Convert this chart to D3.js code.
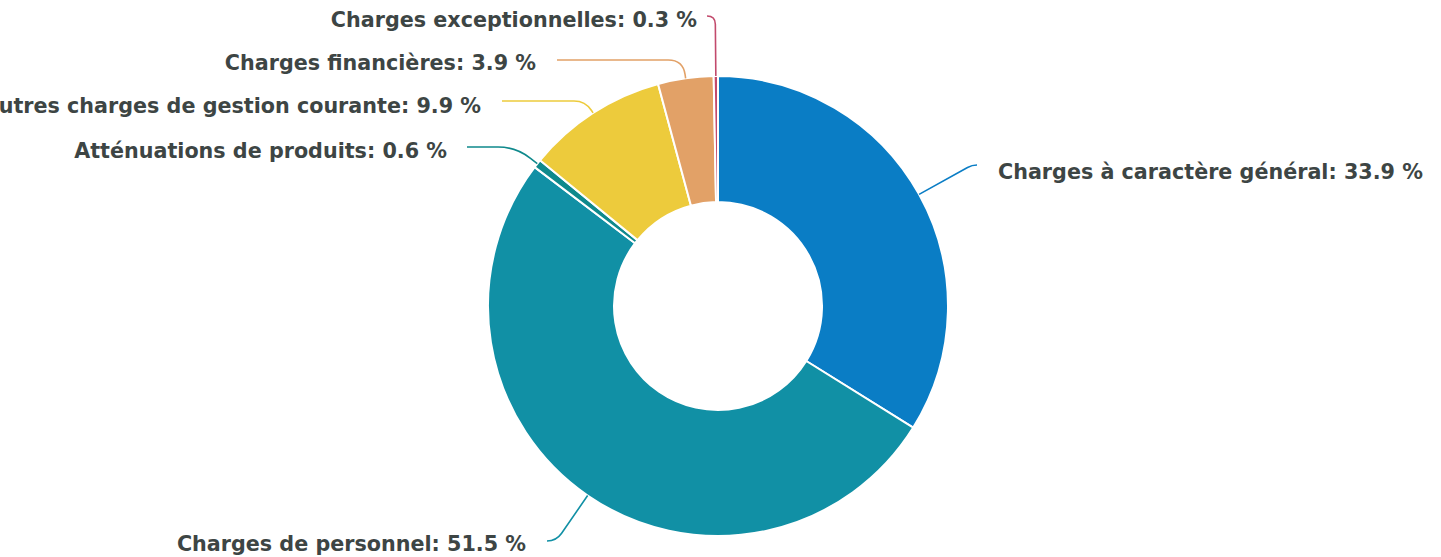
<!DOCTYPE html>
<html><head><meta charset="utf-8">
<script src="https://cdn.jsdelivr.net/npm/d3@7"></script>
<style>html,body{margin:0;padding:0;background:#fff;}svg{display:block;}</style>
</head><body>
<svg id="chart" width="1441" height="557"></svg>
<script>
const categories = ["Charges à caractère général","Charges de personnel","Atténuations de produits","Autres charges de gestion courante","Charges financières","Charges exceptionnelles"];
const values = [33.9, 51.5, 0.6, 9.9, 3.9, 0.3];
const colors = ["#0a7dc5","#1190a5","#0f898c","#edcb3c","#e2a167","#c24a6c"];
// label layout: leader-line end (x, y), label centre y, gap between text and line
const lineEndX = [977, 547, 467, 502, 557, 707];
const lineEndY = [165, 541, 147, 101, 60, 16];
const labelY = [172, 544, 151, 106, 63, 20];
const labelGap = [21, 21, 20, 21, 21, 10];

const svg = d3.select("#chart");
const cx = 718, cy = 306, R = 230, r0 = 104;
const data = categories.map((c,i)=>({name:c, value:values[i], color:colors[i], ex:lineEndX[i], ey:lineEndY[i], ly:labelY[i], gap:labelGap[i]}));
const pie = d3.pie().value(d=>d.value).sort(null);
const arcs = pie(data);
const arc = d3.arc().innerRadius(r0).outerRadius(R);
const g = svg.append("g").attr("transform",`translate(${cx},${cy})`);
g.selectAll("path.slice").data(arcs).join("path").attr("class","slice")
  .attr("d",arc).attr("fill",d=>d.data.color).attr("stroke","#fff").attr("stroke-width",2).attr("stroke-linejoin","round");

const lab = svg.append("g");
arcs.forEach(a=>{
  const mid = (a.startAngle+a.endAngle)/2;
  const dx = Math.sin(mid), dy = -Math.cos(mid);
  const P0 = [cx + R*dx, cy + R*dy];
  const Ey = a.data.ey, Ex = a.data.ex;
  const t = (Ey - P0[1]) / dy;
  const K = [P0[0] + dx*t, Ey];
  const side = Ex < K[0] ? 1 : -1;
  const rc = Math.max(0, Math.min(18, Math.abs(K[0]-Ex), Math.abs(t)*0.8));
  const len = Math.hypot(P0[0]-K[0], P0[1]-K[1]);
  const ux = (P0[0]-K[0])/len, uy = (P0[1]-K[1])/len;
  const p = d3.path();
  p.moveTo(Ex, Ey);
  p.lineTo(K[0] - side*rc, Ey);
  p.quadraticCurveTo(K[0], K[1], K[0]+ux*rc, K[1]+uy*rc);
  p.lineTo(P0[0], P0[1]);
  lab.append("path").attr("d", p.toString()).attr("fill","none")
    .attr("stroke", a.data.color).attr("stroke-width",1.6);
  const left = Ex < cx;
  lab.append("text")
    .attr("x", left ? Ex - a.data.gap : Ex + a.data.gap)
    .attr("y", a.data.ly).attr("dy","0.35em")
    .attr("text-anchor", left ? "end" : "start")
    .attr("font-family","DejaVu Sans").attr("font-weight","bold").attr("font-size",20.7)
    .attr("fill","#3d4544")
    .text(`${a.data.name}: ${a.data.value} %`);
});
</script>
</body></html>
